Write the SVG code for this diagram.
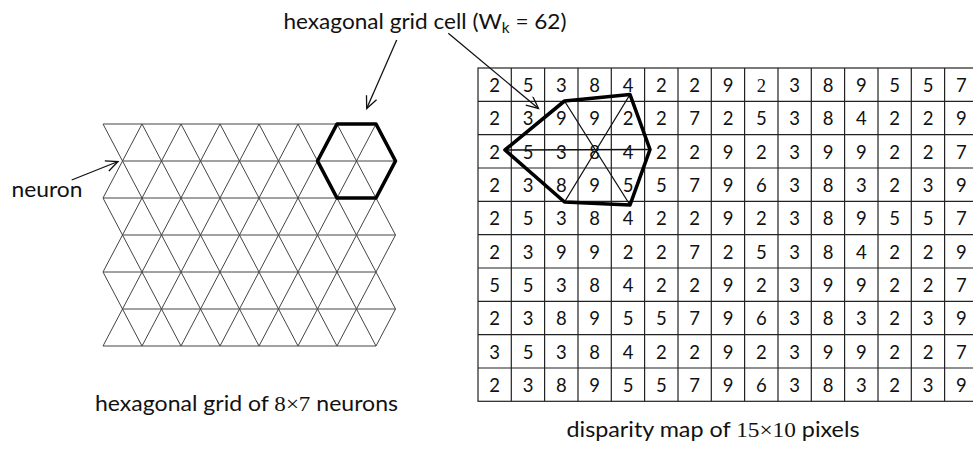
<svg xmlns="http://www.w3.org/2000/svg" width="973" height="449" viewBox="0 0 973 449">
<style>
.lbl{font-family:Lato,"Liberation Sans",sans-serif;font-size:22px;fill:#111}
.ser{font-family:"Liberation Serif",serif}
.num{font-family:Lato,"Liberation Sans",sans-serif;font-size:18.5px;fill:#111;text-anchor:middle}
.grid{fill:none;stroke:#444;stroke-width:1}
.tbl{fill:none;stroke:#222;stroke-width:1.2}
.hex{fill:none;stroke:#000;stroke-width:3.6;stroke-linejoin:round}
.thin{fill:none;stroke:#111;stroke-width:1.3}
.arr{fill:none;stroke:#111;stroke-width:1.3}
</style>
<defs>
<marker id="ah" markerUnits="userSpaceOnUse" markerWidth="16" markerHeight="16" refX="13" refY="6" orient="auto">
<path d="M1,0.5 L13,6 L1,11.5" fill="none" stroke="#111" stroke-width="1.3"/>
</marker>
</defs>
<rect width="973" height="449" fill="#fff"/>

<g id="neuron-grid">
<path class="grid" d="M103,124H376 M122.5,161H395.5 M103,198H376 M122.5,235H395.5 M103,272H376 M122.5,309H395.5 M103,346H376
M103,124 l19.5,37 19.5,-37 19.5,37 19.5,-37 19.5,37 19.5,-37 19.5,37 19.5,-37 19.5,37 19.5,-37 19.5,37 19.5,-37 19.5,37 19.5,-37 19.5,37
M103,198 l19.5,-37 19.5,37 19.5,-37 19.5,37 19.5,-37 19.5,37 19.5,-37 19.5,37 19.5,-37 19.5,37 19.5,-37 19.5,37 19.5,-37 19.5,37 19.5,-37
M103,198 l19.5,37 19.5,-37 19.5,37 19.5,-37 19.5,37 19.5,-37 19.5,37 19.5,-37 19.5,37 19.5,-37 19.5,37 19.5,-37 19.5,37 19.5,-37 19.5,37
M103,272 l19.5,-37 19.5,37 19.5,-37 19.5,37 19.5,-37 19.5,37 19.5,-37 19.5,37 19.5,-37 19.5,37 19.5,-37 19.5,37 19.5,-37 19.5,37 19.5,-37
M103,272 l19.5,37 19.5,-37 19.5,37 19.5,-37 19.5,37 19.5,-37 19.5,37 19.5,-37 19.5,37 19.5,-37 19.5,37 19.5,-37 19.5,37 19.5,-37 19.5,37
M103,346 l19.5,-37 19.5,37 19.5,-37 19.5,37 19.5,-37 19.5,37 19.5,-37 19.5,37 19.5,-37 19.5,37 19.5,-37 19.5,37 19.5,-37 19.5,37 19.5,-37"/>
</g>
<g id="grid-hexagon">
<polygon class="hex" points="337,124 376,124 395.5,161 376,198 337,198 317.5,161"/>
</g>

<g id="disparity-map">
<rect class="tbl" x="478" y="68" width="510" height="333.3"/>
<path class="tbl" d="M511.3,68V401.3 M544.6,68V401.3 M578,68V401.3 M611.3,68V401.3 M644.6,68V401.3 M678,68V401.3 M711.3,68V401.3 M744.6,68V401.3 M778,68V401.3 M811.3,68V401.3 M844.6,68V401.3 M878,68V401.3 M911.3,68V401.3 M944.6,68V401.3
M478,101.3H973 M478,134.6H973 M478,168H973 M478,201.3H973 M478,234.6H973 M478,268H973 M478,301.3H973 M478,334.6H973 M478,368H973"/>
<g class="num">
<text y="92" x="494.7 528 561.3 594.7 628 661.3 694.7 728">25384229</text>
<text y="92" x="761.3" class="ser">2</text>
<text y="92" x="794.7 828 861.3 894.7 928 961.3">389557</text>
<text y="125.3" x="494.7 528 561.3 594.7 628 661.3 694.7 728 761.3 794.7 828 861.3 894.7 928 961.3">239922725384229</text>
<text y="158.6" x="494.7 528 561.3 594.7 628 661.3 694.7 728 761.3 794.7 828 861.3 894.7 928 961.3">253842292399227</text>
<text y="192" x="494.7 528 561.3 594.7 628 661.3 694.7 728 761.3 794.7 828 861.3 894.7 928 961.3">238955796383239</text>
<text y="225.3" x="494.7 528 561.3 594.7 628 661.3 694.7 728 761.3 794.7 828 861.3 894.7 928 961.3">253842292389557</text>
<text y="258.6" x="494.7 528 561.3 594.7 628 661.3 694.7 728 761.3 794.7 828 861.3 894.7 928 961.3">239922725384229</text>
<text y="292" x="494.7 528 561.3 594.7 628 661.3 694.7 728 761.3 794.7 828 861.3 894.7 928 961.3">553842292399227</text>
<text y="325.3" x="494.7 528 561.3 594.7 628 661.3 694.7 728 761.3 794.7 828 861.3 894.7 928 961.3">238955796383239</text>
<text y="358.6" x="494.7 528 561.3 594.7 628 661.3 694.7 728 761.3 794.7 828 861.3 894.7 928 961.3">353842292399227</text>
<text y="392" x="494.7 528 561.3 594.7 628 661.3 694.7 728 761.3 794.7 828 861.3 894.7 928 961.3">238955796383239</text>
</g>
</g>
<g id="map-hexagon">
<path class="thin" d="M505,150 L650,149.5 M564.5,101 L630,205 M630,94.5 L564.5,202"/>
<polygon class="hex" points="505,150 564.5,101 630,94.5 650,149.5 630,205 564.5,202"/>
</g>

<g id="connectors">
<line class="arr" x1="396.7" y1="40" x2="366.7" y2="108.5" marker-end="url(#ah)"/>
<line class="arr" x1="448.3" y1="33.3" x2="538.5" y2="108.5" marker-end="url(#ah)"/>
<line class="arr" x1="71.7" y1="180" x2="118" y2="161.5" marker-end="url(#ah)"/>
</g>

<g id="labels">
<text class="lbl" x="283.5" y="28.5" textLength="283" lengthAdjust="spacingAndGlyphs">hexagonal grid cell (W<tspan font-size="15" dy="4">k</tspan><tspan dy="-4"> = 62)</tspan></text>
<text class="lbl" x="11.5" y="197" textLength="71" lengthAdjust="spacingAndGlyphs">neuron</text>
<text class="lbl" x="95" y="410.5" textLength="303" lengthAdjust="spacingAndGlyphs">hexagonal grid of <tspan class="ser">8×7</tspan> neurons</text>
<text class="lbl" x="566.5" y="436.5" textLength="293" lengthAdjust="spacingAndGlyphs">disparity map of <tspan class="ser">15×10</tspan> pixels</text>
</g>
</svg>
